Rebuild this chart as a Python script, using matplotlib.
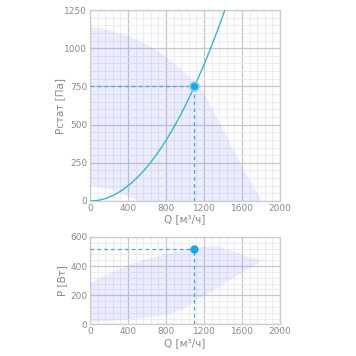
import numpy as np
import matplotlib
matplotlib.use("Agg")
import matplotlib.pyplot as plt
from matplotlib.ticker import MultipleLocator, AutoMinorLocator

plt.rcParams['font.family'] = ['DejaVu Sans']

# Operating point
q_op = 1100
p_op = 750
n_op = 515

# Fan pressure area (upper and lower bounds)
area_up_q = [0, 200, 400, 600, 800, 1000, 1160, 1350, 1500, 1650, 1810]
area_up_p = [1145, 1120, 1082, 1025, 948, 840, 745, 530, 345, 170, 0]
area_lo_q = [0, 200, 400, 520, 1810]
area_lo_p = [105, 80, 32, 0, 0]

# Power area
pow_up_q = [0, 200, 400, 600, 800, 1000, 1200, 1350, 1500, 1650, 1810]
pow_up_p = [288, 355, 410, 455, 488, 520, 538, 540, 505, 470, 440]
pow_lo_q = [0, 400, 800, 950, 1200, 1500, 1810]
pow_lo_p = [19, 38, 66, 100, 200, 320, 440]

k = p_op / q_op**2
q_sys = np.linspace(0, 1450, 300)
p_sys = k * q_sys**2

grid_major = '#c6c6cf'
grid_minor = '#e9e9ee'
fill_col = (0.5, 0.5, 1.0, 0.15)
line_col = '#3bb5cf'
dot_col = '#1aa6e6'
dash_col = '#4aa6d8'
txt_col = '#8a8a8a'

fig = plt.figure(figsize=(3.56, 3.56), dpi=100)
ax1 = fig.add_axes([0.2528, 0.4354, 0.5337, 0.5365])
ax2 = fig.add_axes([0.2528, 0.0885, 0.5337, 0.2458])

def style(ax, ymax, ystep):
    ax.set_xlim(0, 2000)
    ax.set_ylim(0, ymax)
    ax.xaxis.set_major_locator(MultipleLocator(400))
    ax.yaxis.set_major_locator(MultipleLocator(ystep))
    ax.xaxis.set_minor_locator(AutoMinorLocator(5))
    ax.yaxis.set_minor_locator(AutoMinorLocator(5))
    ax.grid(which='major', color=grid_major, lw=0.9, zorder=0)
    ax.grid(which='minor', color=grid_minor, lw=0.6, zorder=0)
    ax.set_axisbelow(True)
    for s in ax.spines.values():
        s.set_color('#cccccc')
        s.set_linewidth(0.9)
    ax.tick_params(which='both', length=0, labelsize=6.5, colors=txt_col, pad=2)
    ax.set_xlabel('Q [м³/ч]', fontsize=7.5, color=txt_col, labelpad=1)

style(ax1, 1250, 250)
style(ax2, 600, 200)

# top chart
qq = np.linspace(0, 1810, 400)
up = np.interp(qq, area_up_q, area_up_p)
lo = np.interp(qq, area_lo_q, area_lo_p)
ax1.fill_between(qq, lo, up, color=fill_col, lw=0, zorder=1)
ax1.plot(q_sys, p_sys, color=line_col, lw=1.0, zorder=3)
ax1.plot([0, q_op], [p_op, p_op], color=dash_col, lw=0.9, ls=(0, (3, 2.5)), zorder=3)
ax1.plot([q_op, q_op], [0, p_op], color=dash_col, lw=0.9, ls=(0, (3, 2.5)), zorder=3)
ax1.plot([q_op], [p_op], 'o', ms=6.5, color=dot_col, mec='#8fd3f0', mew=1.2, zorder=4)
ax1.set_ylabel('Pстат [Па]', fontsize=7.5, color=txt_col)
ax1.yaxis.set_label_coords(-0.13, 0.5)

# bottom chart
pu = np.interp(qq, pow_up_q, pow_up_p)
pl = np.interp(qq, pow_lo_q, pow_lo_p)
ax2.fill_between(qq, pl, pu, color=fill_col, lw=0, zorder=1)
ax2.plot([0, q_op], [n_op, n_op], color=dash_col, lw=0.9, ls=(0, (3, 2.5)), zorder=3)
ax2.plot([q_op, q_op], [0, n_op], color=dash_col, lw=0.9, ls=(0, (3, 2.5)), zorder=3)
ax2.plot([q_op], [n_op], 'o', ms=5, color=dot_col, zorder=4)
ax2.set_ylabel('P [Вт]', fontsize=7.5, color=txt_col)
ax2.yaxis.set_label_coords(-0.12, 0.5)

fig.savefig('out.png', dpi=100, facecolor='white')
